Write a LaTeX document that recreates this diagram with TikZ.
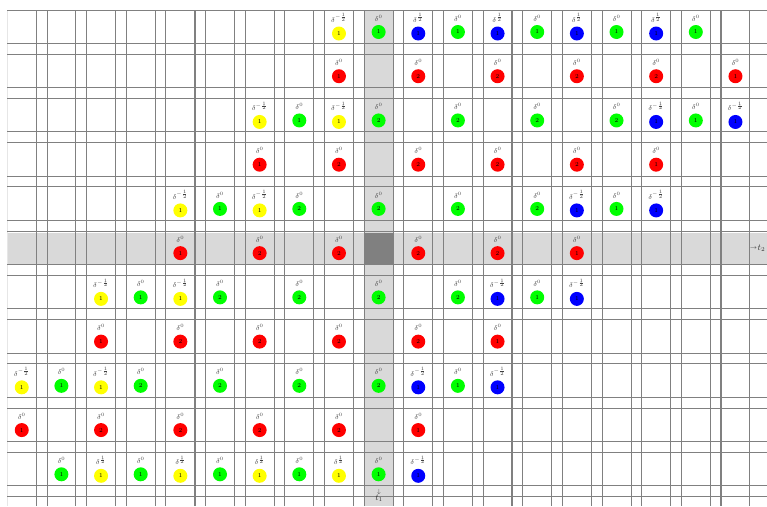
\documentclass[tikz,border=0pt]{standalone}
\usepackage{tikz}
\definecolor{gridgray}{RGB}{128,128,128}
\definecolor{lightgrid}{RGB}{230,230,230}
\definecolor{shadegray}{RGB}{217,217,217}
\definecolor{darkshade}{RGB}{128,128,128}
\definecolor{cy}{RGB}{255,255,0}
\definecolor{cg}{RGB}{0,255,0}
\definecolor{cb}{RGB}{0,0,255}
\definecolor{cr}{RGB}{255,0,0}
\def\exZ{$\delta^{0}$}
\def\exM{$\delta^{-\frac{1}{2}}$}
\def\exP{$\delta^{\frac{1}{2}}$}
\def\dyZ{22}
\def\dyM{23.5}
\def\dyP{23.5}
\newcommand\cellrow[2]{%
  \foreach \cc/\col/\nn/\ee in {#2} {
    \edef\dy{\csname dy\ee\endcsname}
    \node[expo] (e-#1-\cc) at ({21.75+39.65*\cc},{10+44.23*#1+8}) {\csname ex\ee\endcsname};
    \node[ball,fill=\col] (d-#1-\cc) at ({21.75+39.65*\cc},{10+44.23*#1+\dy}) {\nn};
  }
}
\begin{document}
\begin{tikzpicture}[x=1pt,y=-1pt,
  gridline/.style={draw=gridgray,line width=0.9pt},
  thickline/.style={draw=gridgray,line width=1.8pt},
  ball/.style={circle,minimum size=14pt,inner sep=0pt,font=\fontsize{6}{6}\selectfont},
  expo/.style={inner sep=0pt,font=\fontsize{7}{8}\selectfont,text=black!75},
  axislabel/.style={inner sep=0pt,text=black!80,font=\fontsize{9}{9}\selectfont},
  axisarrow/.style={inner sep=0pt,text=black!80,font=\fontsize{6}{6}\selectfont}]
\useasboundingbox (0,0) rectangle (767,506);
% shaded axes
\fill[shadegray] (364.6,10) rectangle (393.5,506);
\fill[shadegray] (7.3,233.3) rectangle (767,264.5);
\fill[darkshade] (364.6,233.3) rectangle (393.5,264.5);
% vertical grid lines
\draw[lightgrid,line width=0.9pt] (7.3,10) -- (7.3,506);
\foreach \i in {1,...,18} {
  \draw[gridline] ({7.3+39.65*\i},10) -- ({7.3+39.65*\i},506);
}
\foreach \i in {0,...,18} {
  \draw[gridline] ({36.2+39.65*\i},10) -- ({36.2+39.65*\i},506);
}
% horizontal grid lines
\foreach \j in {0,...,11} {
  \draw[gridline] (7.3,{10+44.23*\j}) -- (767,{10+44.23*\j});
}
\foreach \j in {0,...,10} {
  \draw[gridline] (7.3,{43.4+44.23*\j}) -- (767,{43.4+44.23*\j});
}
% thicker lines
\draw[thickline] (194.9,10) -- (194.9,506);
\draw[thickline] (512,10) -- (512,506);
\draw[thickline] (721,10) -- (721,506);
\draw[thickline] (7.3,275.4) -- (767,275.4);
% cells
\cellrow{0}{8/cy/1/M, 9/cg/1/Z, 10/cb/1/P, 11/cg/1/Z, 12/cb/1/P, 13/cg/1/Z, 14/cb/1/P, 15/cg/1/Z, 16/cb/1/P, 17/cg/1/Z}
\cellrow{1}{8/cr/1/Z, 10/cr/2/Z, 12/cr/2/Z, 14/cr/2/Z, 16/cr/2/Z, 18/cr/1/Z}
\cellrow{2}{6/cy/1/M, 7/cg/1/Z, 8/cy/1/M, 9/cg/2/Z, 11/cg/2/Z, 13/cg/2/Z, 15/cg/2/Z, 16/cb/1/M, 17/cg/1/Z, 18/cb/1/M}
\cellrow{3}{6/cr/1/Z, 8/cr/2/Z, 10/cr/2/Z, 12/cr/2/Z, 14/cr/2/Z, 16/cr/1/Z}
\cellrow{4}{4/cy/1/M, 5/cg/1/Z, 6/cy/1/M, 7/cg/2/Z, 9/cg/2/Z, 11/cg/2/Z, 13/cg/2/Z, 14/cb/1/M, 15/cg/1/Z, 16/cb/1/M}
\cellrow{5}{4/cr/1/Z, 6/cr/2/Z, 8/cr/2/Z, 10/cr/2/Z, 12/cr/2/Z, 14/cr/1/Z}
\cellrow{6}{2/cy/1/M, 3/cg/1/Z, 4/cy/1/M, 5/cg/2/Z, 7/cg/2/Z, 9/cg/2/Z, 11/cg/2/Z, 12/cb/1/M, 13/cg/1/Z, 14/cb/1/M}
\cellrow{7}{2/cr/1/Z, 4/cr/2/Z, 6/cr/2/Z, 8/cr/2/Z, 10/cr/2/Z, 12/cr/1/Z}
\cellrow{8}{0/cy/1/M, 1/cg/1/Z, 2/cy/1/M, 3/cg/2/Z, 5/cg/2/Z, 7/cg/2/Z, 9/cg/2/Z, 10/cb/1/M, 11/cg/1/Z, 12/cb/1/M}
\cellrow{9}{0/cr/1/Z, 2/cr/2/Z, 4/cr/2/Z, 6/cr/2/Z, 8/cr/2/Z, 10/cr/1/Z}
\cellrow{10}{1/cg/1/Z, 2/cy/1/P, 3/cg/1/Z, 4/cy/1/P, 5/cg/1/Z, 6/cy/1/P, 7/cg/1/Z, 8/cy/1/P, 9/cg/1/Z, 10/cb/1/M}
% axis labels
\node[axisarrow,anchor=east] (t2arrow) at (757.5,248.5) {$\rightarrow$};
\node[axislabel,anchor=west] (t2) at (t2arrow.east) {$t_2$};
\node[axisarrow] (t1arrow) at (379,491.5) {$\downarrow$};
\node[axislabel,anchor=north] (t1) at (379,495) {$t_1$};
\end{tikzpicture}
\end{document}
